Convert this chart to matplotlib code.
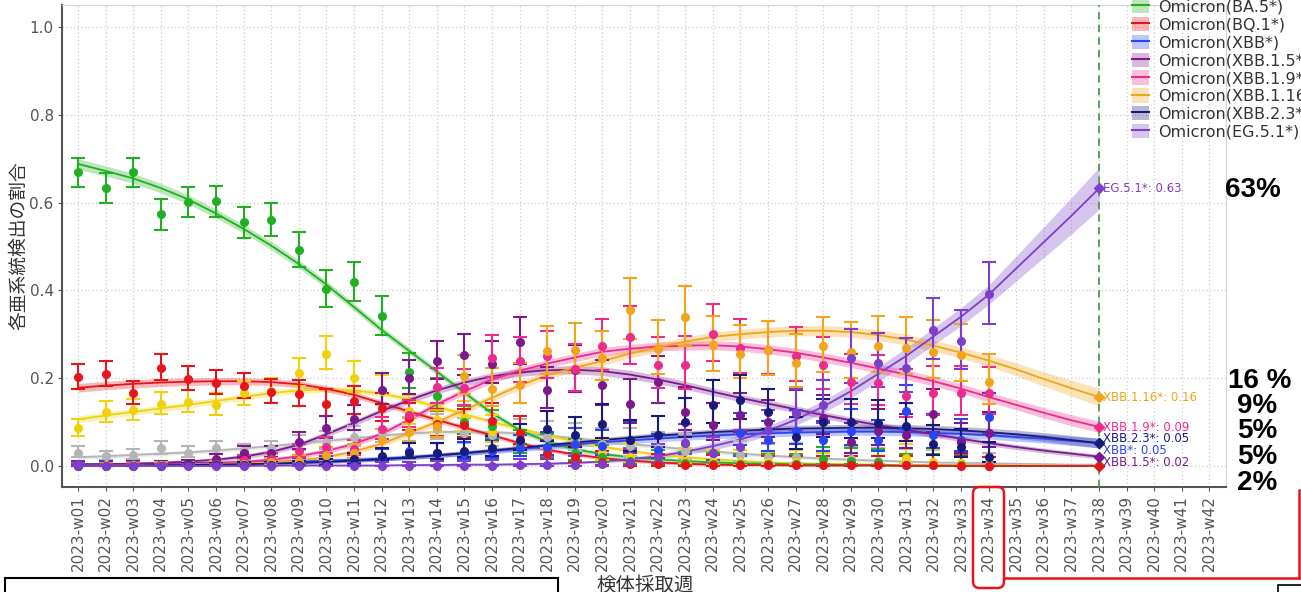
import numpy as np
import matplotlib
matplotlib.use("Agg")
import matplotlib.pyplot as plt
from matplotlib.patches import Patch, Rectangle, FancyBboxPatch
from matplotlib.lines import Line2D

plt.rcParams['font.family'] = ['DejaVu Sans', 'Noto Sans CJK JP']

# ---------------- data ----------------
weeks_obs = np.arange(1, 35)
weeks_fit = np.arange(1, 39)
week_labels = ["2023-w%02d" % i for i in range(1, 43)]
sample_n = [780, 760, 760, 740, 790, 760, 720, 680, 600, 500, 480, 440, 400, 360, 330, 300, 270,
            250, 230, 220, 180, 200, 180, 190, 200, 200, 190, 190, 180, 180, 175, 167, 170, 180]

names = ["other", "BA.2.75", "BA.5*", "BQ.1*", "XBB*", "XBB.1.5*", "XBB.1.9*", "XBB.1.16*", "XBB.2.3*", "EG.5.1*"]
legend_names = ["Omicron(BA.5*)", "Omicron(BQ.1*)", "Omicron(XBB*)", "Omicron(XBB.1.5*)",
                "Omicron(XBB.1.9*)", "Omicron(XBB.1.16*)", "Omicron(XBB.2.3*)", "Omicron(EG.5.1*)"]
colors = {"other": "#b5b5b5", "BA.2.75": "#f0d20c", "BA.5*": "#22b022", "BQ.1*": "#e8141b",
          "XBB*": "#2b45f5", "XBB.1.5*": "#7a1a8c", "XBB.1.9*": "#ec2b8c", "XBB.1.16*": "#f2a51a",
          "XBB.2.3*": "#1a1a7a", "EG.5.1*": "#7d3fc9"}

obs = {
    "other": [0.030, 0.022, 0.025, 0.040, 0.030, 0.040, 0.035, 0.040, 0.050, 0.055, 0.065, 0.075, 0.080, 0.085, 0.075, 0.070, 0.070,
              0.065, 0.060, 0.050, 0.045, 0.040, 0.035, 0.030, 0.025, 0.020, 0.020, 0.015, 0.015, 0.012, 0.010, 0.008, 0.006, 0.005],
    "BA.2.75": [0.086, 0.122, 0.127, 0.141, 0.146, 0.139, 0.165, 0.170, 0.212, 0.256, 0.201, 0.170, 0.125, 0.105, 0.110, 0.080, 0.060,
                0.040, 0.050, 0.030, 0.020, 0.015, 0.012, 0.010, 0.010, 0.008, 0.010, 0.005, 0.012, 0.008, 0.017, 0.010, 0.006, 0.000],
    "BA.5*": [0.670, 0.633, 0.670, 0.573, 0.601, 0.603, 0.555, 0.561, 0.493, 0.403, 0.420, 0.341, 0.214, 0.160, 0.100, 0.090, 0.050,
              0.040, 0.030, 0.020, 0.012, 0.010, 0.006, 0.005, 0.004, 0.004, 0.004, 0.015, 0.012, 0.010, 0.003, 0.002, 0.001, 0.000],
    "BQ.1*": [0.203, 0.209, 0.165, 0.224, 0.199, 0.189, 0.182, 0.169, 0.163, 0.142, 0.148, 0.131, 0.110, 0.095, 0.093, 0.103, 0.076,
              0.030, 0.020, 0.010, 0.005, 0.005, 0.003, 0.003, 0.002, 0.002, 0.002, 0.001, 0.001, 0.001, 0.001, 0.001, 0.000, 0.000],
    "XBB*": [0.004, 0.003, 0.004, 0.004, 0.005, 0.006, 0.006, 0.008, 0.008, 0.010, 0.012, 0.020, 0.033, 0.030, 0.030, 0.033, 0.040,
             0.044, 0.050, 0.045, 0.058, 0.036, 0.052, 0.030, 0.076, 0.060, 0.080, 0.059, 0.080, 0.060, 0.126, 0.070, 0.060, 0.111],
    "XBB.1.5*": [0.003, 0.002, 0.003, 0.004, 0.006, 0.015, 0.030, 0.030, 0.055, 0.086, 0.107, 0.173, 0.200, 0.238, 0.252, 0.233, 0.282,
                 0.174, 0.218, 0.184, 0.140, 0.191, 0.123, 0.094, 0.115, 0.100, 0.120, 0.110, 0.055, 0.080, 0.070, 0.118, 0.054, 0.074],
    "XBB.1.9*": [0.001, 0.001, 0.002, 0.002, 0.003, 0.005, 0.014, 0.016, 0.033, 0.044, 0.038, 0.083, 0.116, 0.180, 0.177, 0.247, 0.239,
                 0.250, 0.220, 0.273, 0.294, 0.230, 0.230, 0.300, 0.269, 0.265, 0.250, 0.230, 0.192, 0.190, 0.159, 0.165, 0.165, 0.165],
    "XBB.1.16*": [0.000, 0.001, 0.001, 0.002, 0.002, 0.003, 0.005, 0.008, 0.012, 0.025, 0.030, 0.059, 0.078, 0.092, 0.205, 0.175, 0.184,
                  0.261, 0.265, 0.247, 0.355, 0.267, 0.339, 0.275, 0.256, 0.264, 0.235, 0.273, 0.260, 0.273, 0.269, 0.260, 0.252, 0.192],
    "XBB.2.3*": [0.000, 0.000, 0.000, 0.000, 0.001, 0.001, 0.002, 0.002, 0.003, 0.005, 0.015, 0.023, 0.030, 0.030, 0.035, 0.040, 0.060,
                 0.085, 0.070, 0.095, 0.060, 0.070, 0.101, 0.139, 0.150, 0.123, 0.067, 0.101, 0.100, 0.098, 0.091, 0.050, 0.042, 0.021],
    "EG.5.1*": [0.000, 0.000, 0.000, 0.000, 0.000, 0.000, 0.000, 0.000, 0.000, 0.000, 0.000, 0.000, 0.000, 0.000, 0.000, 0.000, 0.001,
                0.002, 0.003, 0.005, 0.010, 0.020, 0.052, 0.030, 0.044, 0.082, 0.121, 0.139, 0.245, 0.235, 0.224, 0.309, 0.284, 0.391],
}

fit = {
    "other": [0.020, 0.022, 0.025, 0.028, 0.031, 0.035, 0.040, 0.045, 0.051, 0.057, 0.063, 0.069, 0.074, 0.077, 0.078, 0.077, 0.074, 0.069, 0.063,
              0.057, 0.050, 0.044, 0.038, 0.033, 0.028, 0.024, 0.020, 0.017, 0.014, 0.012, 0.010, 0.008, 0.007, 0.006, 0.005, 0.004, 0.003, 0.003],
    "BA.2.75": [0.106, 0.115, 0.123, 0.131, 0.139, 0.148, 0.157, 0.166, 0.172, 0.174, 0.172, 0.165, 0.152, 0.135, 0.118, 0.100, 0.085, 0.070, 0.056,
                0.044, 0.034, 0.026, 0.020, 0.015, 0.011, 0.008, 0.006, 0.005, 0.004, 0.003, 0.002, 0.002, 0.001, 0.001, 0.001, 0.001, 0.000, 0.000],
    "BA.5*": [0.688, 0.672, 0.655, 0.633, 0.607, 0.575, 0.540, 0.502, 0.460, 0.413, 0.362, 0.310, 0.262, 0.215, 0.167, 0.120, 0.082, 0.055, 0.038,
              0.027, 0.020, 0.015, 0.011, 0.008, 0.006, 0.005, 0.004, 0.003, 0.002, 0.002, 0.001, 0.001, 0.001, 0.001, 0.000, 0.000, 0.000, 0.000],
    "BQ.1*": [0.178, 0.183, 0.187, 0.190, 0.192, 0.193, 0.193, 0.191, 0.186, 0.176, 0.162, 0.143, 0.124, 0.105, 0.087, 0.070, 0.052, 0.037, 0.026,
              0.018, 0.012, 0.008, 0.005, 0.003, 0.002, 0.002, 0.001, 0.001, 0.001, 0.001, 0.000, 0.000, 0.000, 0.000, 0.000, 0.000, 0.000, 0.000],
    "XBB*": [0.004, 0.004, 0.005, 0.005, 0.006, 0.007, 0.008, 0.009, 0.010, 0.012, 0.014, 0.017, 0.020, 0.024, 0.029, 0.034, 0.039, 0.044, 0.049,
             0.054, 0.058, 0.062, 0.066, 0.069, 0.072, 0.074, 0.076, 0.077, 0.078, 0.078, 0.077, 0.075, 0.073, 0.070, 0.066, 0.062, 0.057, 0.052],
    "XBB.1.5*": [0.003, 0.004, 0.005, 0.007, 0.010, 0.014, 0.021, 0.032, 0.048, 0.072, 0.098, 0.125, 0.150, 0.172, 0.190, 0.204, 0.213, 0.218, 0.219,
                 0.216, 0.208, 0.197, 0.184, 0.169, 0.155, 0.142, 0.129, 0.116, 0.104, 0.093, 0.082, 0.072, 0.062, 0.052, 0.043, 0.035, 0.028, 0.021],
    "XBB.1.9*": [0.001, 0.002, 0.002, 0.003, 0.004, 0.006, 0.009, 0.014, 0.022, 0.034, 0.050, 0.073, 0.105, 0.140, 0.170, 0.197, 0.217, 0.233, 0.247,
                 0.260, 0.267, 0.272, 0.274, 0.275, 0.272, 0.266, 0.258, 0.247, 0.235, 0.222, 0.208, 0.193, 0.176, 0.157, 0.139, 0.121, 0.104, 0.089],
    "XBB.1.16*": [0.001, 0.001, 0.002, 0.002, 0.003, 0.004, 0.006, 0.008, 0.012, 0.020, 0.033, 0.050, 0.075, 0.100, 0.127, 0.155, 0.183, 0.207, 0.224,
                  0.239, 0.256, 0.270, 0.283, 0.294, 0.300, 0.305, 0.308, 0.308, 0.305, 0.298, 0.288, 0.274, 0.258, 0.240, 0.220, 0.198, 0.177, 0.157],
    "XBB.2.3*": [0.001, 0.001, 0.001, 0.002, 0.002, 0.003, 0.004, 0.005, 0.007, 0.009, 0.012, 0.015, 0.019, 0.024, 0.029, 0.035, 0.041, 0.047, 0.053,
                 0.059, 0.064, 0.069, 0.073, 0.077, 0.080, 0.083, 0.085, 0.086, 0.087, 0.087, 0.086, 0.084, 0.081, 0.077, 0.072, 0.066, 0.059, 0.052],
    "EG.5.1*": [0.000, 0.000, 0.000, 0.000, 0.000, 0.000, 0.000, 0.001, 0.001, 0.001, 0.001, 0.001, 0.002, 0.002, 0.003, 0.003, 0.004, 0.005, 0.007,
                0.010, 0.015, 0.022, 0.032, 0.045, 0.060, 0.080, 0.105, 0.135, 0.170, 0.210, 0.250, 0.295, 0.340, 0.390, 0.450, 0.510, 0.570, 0.632],
}

# fitted-curve confidence band half widths at weeks 1, 20, 34, 38
band_weeks = [1, 20, 34, 38]
band_hw = {
    "other": [0.004, 0.005, 0.002, 0.002], "BA.2.75": [0.008, 0.005, 0.001, 0.001],
    "BA.5*": [0.012, 0.005, 0.001, 0.001], "BQ.1*": [0.010, 0.004, 0.001, 0.001],
    "XBB*": [0.003, 0.007, 0.009, 0.011], "XBB.1.5*": [0.003, 0.010, 0.006, 0.005],
    "XBB.1.9*": [0.002, 0.010, 0.011, 0.013], "XBB.1.16*": [0.002, 0.010, 0.013, 0.020],
    "XBB.2.3*": [0.002, 0.006, 0.009, 0.011], "EG.5.1*": [0.000, 0.003, 0.022, 0.048],
}

end_labels = {"EG.5.1*": ("EG.5.1*: 0.63", 0.632), "XBB.1.16*": ("XBB.1.16*: 0.16", 0.157),
              "XBB.1.9*": ("XBB.1.9*: 0.09", 0.088), "XBB.2.3*": ("XBB.2.3*: 0.05", 0.062),
              "XBB*": ("XBB*: 0.05", 0.036), "XBB.1.5*": ("XBB.1.5*: 0.02", 0.008)}

side_notes = [("63%", 190), ("16 %", 381), ("9%", 406), ("5%", 431), ("5%", 457), ("2%", 483)]

# ---------------- figure ----------------
W, H = 1301, 592
fig = plt.figure(figsize=(W / 100, H / 100), dpi=100)
fig.patch.set_facecolor("white")
def FX(x): return x / W
def FY(y): return 1 - y / H

ax = fig.add_axes([FX(62), FY(487), FX(1226) - FX(62), FY(5) - FY(487)])
ax.set_xlim(0.42, 42.6)
ax.set_ylim(-0.048, 1.05)

ax.grid(True, linestyle=(0, (1, 2)), color="#cfcfcf", lw=0.9)
ax.set_axisbelow(True)

z = 1.96
n_arr = np.array(sample_n, dtype=float)
for k in names:
    c = colors[k]
    f = np.array(fit[k])
    hw = np.interp(weeks_fit, band_weeks, band_hw[k])
    ax.fill_between(weeks_fit, np.clip(f - hw, 0, None), f + hw, color=c, alpha=0.3, lw=0, zorder=2)
    ax.plot(weeks_fit, f, color=c, lw=1.3, zorder=3)

for k in names:
    c = colors[k]
    p = np.array(obs[k])
    denom = 1 + z ** 2 / n_arr
    center = (p + z ** 2 / (2 * n_arr)) / denom
    half = z * np.sqrt(p * (1 - p) / n_arr + z ** 2 / (4 * n_arr ** 2)) / denom
    lo = np.clip(p - (center - half), 0, None)
    hi = np.clip(center + half - p, 0, None)
    ax.errorbar(weeks_obs, p, yerr=[lo, hi], fmt="o", color=c, ms=5.5, capsize=4.8,
                elinewidth=1.5, capthick=1.5, zorder=4)
    ax.plot([38], [fit[k][-1]], marker="D", color=c, ms=5.5, zorder=5, ls="none")

ax.axvline(38, color="#4e9a4e", ls=(0, (4, 3)), lw=1.3, zorder=3)

for k, (txt, yv) in end_labels.items():
    ax.text(38.15, yv, txt, color=colors[k], fontsize=8.5, va="center", ha="left", zorder=6)

ax.set_xticks(range(1, 43))
ax.set_xticklabels(week_labels, rotation=90, fontsize=11, color="#555555")
ax.set_yticks([0, 0.2, 0.4, 0.6, 0.8, 1.0])
ax.set_yticklabels(["0.0", "0.2", "0.4", "0.6", "0.8", "1.0"], fontsize=11, color="#555555")
ax.tick_params(axis="both", length=3, color="#555555", pad=3)
for s in ["left", "bottom"]:
    ax.spines[s].set_color("#555555")
    ax.spines[s].set_linewidth(1.5)
for s in ["top", "right"]:
    ax.spines[s].set_color("#d5d5d5")
    ax.spines[s].set_linewidth(0.8)

fig.text(FX(19), FY(246), "各亜系統検出の割合", rotation=90, ha="center", va="center",
         fontsize=13.5, color="#333333", family=["Noto Sans CJK JP", "DejaVu Sans"])
fig.text(FX(645), FY(585), "検体採取週", ha="center", va="center", fontsize=14,
         color="#333333", family=["Noto Sans CJK JP", "DejaVu Sans"])

# legend
leg_keys = ["BA.5*", "BQ.1*", "XBB*", "XBB.1.5*", "XBB.1.9*", "XBB.1.16*", "XBB.2.3*", "EG.5.1*"]
handles = [(Patch(facecolor=colors[k], alpha=0.3, edgecolor="none"),
            Line2D([0], [0], color=colors[k], lw=1.5)) for k in leg_keys]
fig.legend(handles, legend_names, loc="upper left", bbox_to_anchor=(FX(1132), FY(-1)),
           frameon=False, fontsize=11.5, labelspacing=0.14, handlelength=1.05,
           handleheight=1.0, handletextpad=0.6, borderpad=0, borderaxespad=0,
           labelcolor="#333333")

for txt, yp in side_notes:
    xl = 1225 if txt == "63%" else (1228 if txt == "16 %" else 1237)
    fig.text(FX(xl), FY(yp), txt, ha="left", va="center", fontsize=20,
             fontweight="bold", color="black", family=["Liberation Sans", "DejaVu Sans"])

# annotation shapes
fig.add_artist(FancyBboxPatch((FX(973), FY(588)), FX(1004) - FX(973), FY(487) - FY(588),
                              boxstyle="round,pad=0,rounding_size=0.005", mutation_aspect=2.2,
                              transform=fig.transFigure, fill=False, edgecolor="#e8141b", lw=1.8))
fig.add_artist(Line2D([FX(1005), FX(1299)], [FY(578), FY(578)], transform=fig.transFigure,
                      color="#e8141b", lw=1.8))
fig.add_artist(Line2D([FX(1299), FX(1299)], [FY(490), FY(578)], transform=fig.transFigure,
                      color="#e8141b", lw=1.8))
fig.add_artist(Rectangle((FX(5), FY(605)), FX(558) - FX(5), FY(578) - FY(605),
                         transform=fig.transFigure, fill=False, edgecolor="black", lw=1.5))
fig.add_artist(Rectangle((FX(1278), FY(605)), FX(1310) - FX(1278), FY(585) - FY(605),
                         transform=fig.transFigure, fill=False, edgecolor="black", lw=1.2))

fig.savefig("out.png", dpi=100)
